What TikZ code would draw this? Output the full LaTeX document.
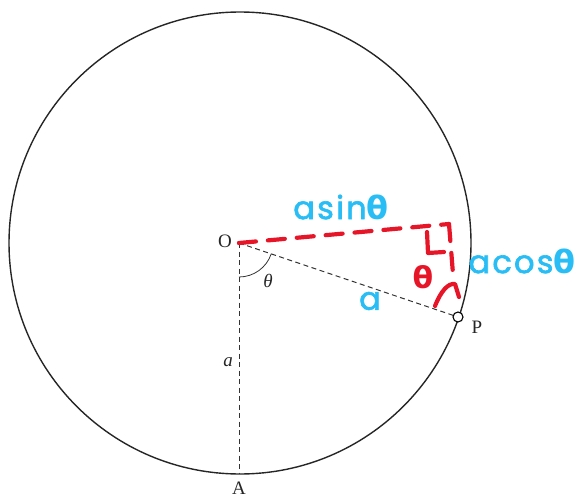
\documentclass[tikz,border=0pt]{standalone}
\usepackage{fontspec}
\setmainfont{Liberation Serif}
\newfontfamily\hand{Poppins}[FakeBold=2, LetterSpace=7]
\newfontfamily\handgr{DejaVu Sans}
\definecolor{hblue}{RGB}{41,189,245}
\definecolor{hred}{RGB}{230,22,40}
\tikzset{
  thin dash/.style={draw=black!80, line width=1pt, dash pattern=on 5pt off 3.5pt},
  red dash/.style={draw=hred, line width=4.2pt, line cap=round, dash pattern=on 17pt off 12pt},
  red mark/.style={draw=hred, line width=4.2pt, line cap=round, line join=round},
  lbl/.style={font=\fontsize{19}{19}\selectfont, text=black!85, inner sep=0pt},
  hb/.style={text=hblue, inner sep=0pt, font=\hand\fontsize{32}{32}\selectfont},
}
\begin{document}
\begin{tikzpicture}[x=1pt,y=-1pt]
\useasboundingbox (0,0) rectangle (577,497);
\coordinate (Ctr) at (240,243);
\coordinate (O) at (239,243);
\coordinate (A) at (239,473);
\coordinate (P) at (458,317);
\coordinate (C) at (449,224);
\coordinate (D) at (453,274);
% circle
\draw[line width=1.4pt, black!85] (Ctr) circle[radius=231pt];
% dashed radii
\draw[thin dash] (O) -- (A);
\draw[thin dash] (O) -- (P);
% angle arc at O
\draw[black!80, line width=0.8pt] (239,277) arc[start angle=-90, end angle=-18.5, radius=34pt];
\fill[black] (O) circle[radius=2pt];
\draw[black, line width=1.1pt, fill=white] (P) circle[radius=5pt];
% labels
\node[lbl] (lO) at (225,241) {O};
\node[lbl] (lP) at (477,327) {P};
\node[lbl] (lA) at (239,488) {A};
\node[lbl] (lth) at (268,281) {\itshape θ};
\node[lbl] (la) at (228,362) {\itshape a};
% red construction
\draw[red dash] (O) -- (C);
\draw[red dash] (C) -- (D);
\draw[red mark] (427,232) -- (428,253) -- (444,252);
\draw[red mark] (435,306) .. controls (441,291) and (448,283) .. (455,284) -- (459,297);
\node[text=hred, inner sep=0pt, font=\handgr\fontsize{30}{30}\selectfont\bfseries] (rth) at (423,277) {θ};
% blue handwriting
\node[hb] (asin) at (341,207) {asin{\handgr\bfseries θ}};
\node[hb] (acos) at (522,261) {acos{\handgr\bfseries θ}};
\node[hb] (ba) at (370,301) {a};
\end{tikzpicture}
\end{document}
